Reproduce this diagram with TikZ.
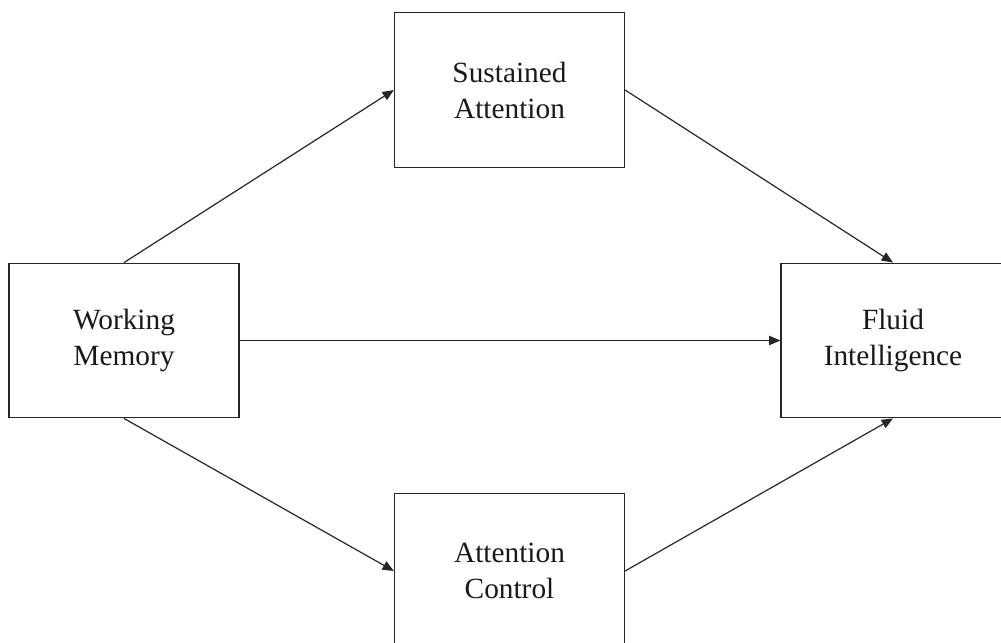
\documentclass[tikz,border=0pt]{standalone}
\usepackage{fontspec}
\setmainfont{Liberation Serif}
\usetikzlibrary{arrows.meta}
\begin{document}
\begin{tikzpicture}[x=0.75pt,y=-0.75pt,
  box/.style={draw=black!85,line width=0.9pt,minimum width=172.5pt,
    minimum height=116pt,inner sep=0pt,align=center,
    font=\fontsize{22}{27}\selectfont,text=black!90},
  link/.style={draw=black!85,line width=0.9pt,
    -{Triangle[length=8.5pt,width=7pt]}}]
\useasboundingbox (0,0) rectangle (1001,643);
\clip (0,0) rectangle (1001,643);
% variables
\node[box] (wm) at (124,340.5) {Working\\Memory};
\node[box] (sa) at (509.5,90) {Sustained\\Attention};
\node[box] (ac) at (509.5,571) {Attention\\Control};
\node[box,minimum width=168pt] (fi) at (893,340.5) {Fluid\\Intelligence};
% paths
\draw[link] (wm.north) -- (sa.west);
\draw[link] (sa.east) -- (fi.north);
\draw[link] (wm.east) -- (fi.west);
\draw[link] (wm.south) -- (ac.west);
\draw[link] (ac.east) -- (fi.south);
\end{tikzpicture}
\end{document}
